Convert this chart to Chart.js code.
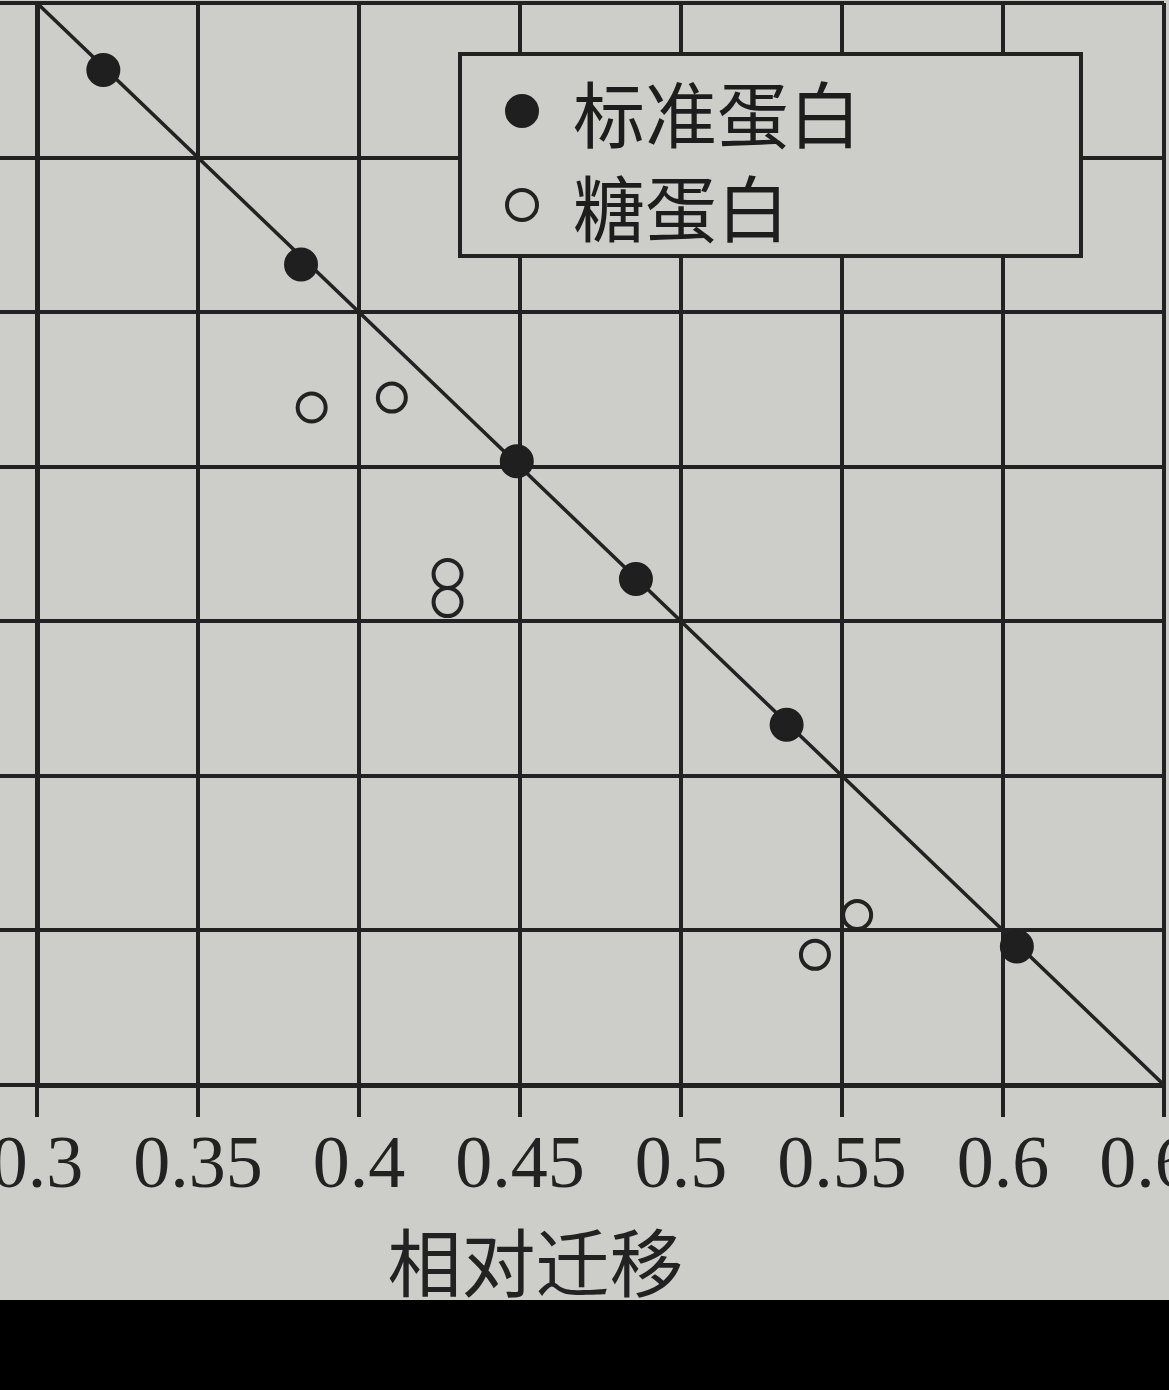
<!DOCTYPE html>
<html>
<head>
<meta charset="utf-8">
<title>相对迁移</title>
<script src="https://cdn.jsdelivr.net/npm/chart.js"></script>
<style>
  html, body { margin: 0; padding: 0; }
  body { width: 1169px; height: 1390px; background: #cdcec9; overflow: hidden; position: relative; }
  #wrap { position: absolute; left: -93px; top: 0; width: 1262px; height: 1300px; }
  #legendBox {
    position: absolute; left: 458px; top: 52px; width: 625px; height: 206px;
    box-sizing: border-box; border: 4px solid #222; background: #cdcec9;
    font-family: "Noto Sans CJK SC", sans-serif; font-size: 72px; color: #1d1d1d;
  }
  .row { position: absolute; left: 0; height: 72px; line-height: 72px; white-space: nowrap; }
  .mark { position: absolute; left: 43px; top: 19px; width: 34px; height: 34px; box-sizing: border-box; border-radius: 50%; }
  .txt { position: absolute; left: 111px; top: 0; }
  #band { position: absolute; left: 0; top: 1300px; width: 1169px; height: 90px; background: #000; }
</style>
</head>
<body>
<div id="wrap"><canvas id="chart"></canvas></div>
<div id="legendBox"></div>
<div id="band"></div>
<script>
// x 轴刻度
const tickValues = [0.3, 0.35, 0.4, 0.45, 0.5, 0.55, 0.6, 0.65];
const tickLabels = ['0.3', '0.35', '0.4', '0.45', '0.5', '0.55', '0.6', '0.65'];

// 标准蛋白 (实心点)
const standardX = [0.3206, 0.382, 0.449, 0.486, 0.5328, 0.6043];
const standardY = [6.567, 5.308, 4.036, 3.274, 2.331, 0.896];

// 糖蛋白 (空心点)
const glycoX = [0.3853, 0.4102, 0.4275, 0.4275, 0.5416, 0.5547];
const glycoY = [4.383, 4.447, 3.306, 3.124, 0.842, 1.1];

// 标准曲线两端
const fitX = [0.3, 0.65];
const fitY = [7, 0];

const axisTitle = '相对迁移';
const ink = '#222';

const toPoints = (xs, ys) => xs.map((x, i) => ({ x, y: ys[i] }));

const ctx = document.getElementById('chart');
const chart = new Chart(ctx, {
    type: 'scatter',
    data: {
        datasets: [
            {
                label: '标准蛋白',
                data: toPoints(standardX, standardY),
                pointRadius: 16,
                backgroundColor: '#1f1f1f',
                borderColor: '#1f1f1f',
                borderWidth: 2,
                inLegend: true
            },
            {
                label: '糖蛋白',
                data: toPoints(glycoX, glycoY),
                pointRadius: 14,
                backgroundColor: 'rgba(0,0,0,0)',
                borderColor: ink,
                borderWidth: 4,
                inLegend: true
            },
            {
                type: 'line',
                label: 'fit',
                data: toPoints(fitX, fitY),
                borderColor: ink,
                borderWidth: 3.5,
                pointRadius: 0,
                fill: false
            }
        ]
    },
    options: {
        responsive: true,
        maintainAspectRatio: false,
        animation: false,
        layout: { autoPadding: false, padding: { top: 3, right: 5, bottom: 0, left: 0 } },
        plugins: {
            legend: { display: false },
            tooltip: { enabled: false },
            title: {
                display: true,
                position: 'bottom',
                text: axisTitle,
                color: ink,
                font: { family: '"Noto Sans CJK SC", sans-serif', size: 74, weight: 'normal', lineHeight: 1 },
                padding: { top: 20, bottom: 0 }
            }
        },
        scales: {
            x: {
                type: 'linear',
                min: 0.3,
                max: 0.65,
                afterBuildTicks: axis => { axis.ticks = tickValues.map(v => ({ value: v })); },
                afterFit: axis => { axis.height = 121; axis.paddingLeft = 0; axis.paddingRight = 0; },
                ticks: {
                    color: ink,
                    padding: 14,
                    maxRotation: 0,
                    autoSkip: false,
                    font: { family: '"Liberation Serif", serif', size: 74, lineHeight: 1 },
                    callback: (v, i) => tickLabels[i]
                },
                grid: { color: ink, lineWidth: 4, tickLength: 32, tickColor: ink, tickWidth: 4 },
                border: { color: ink, width: 5 }
            },
            y: {
                type: 'linear',
                min: 0,
                max: 7,
                afterFit: axis => { axis.width = 130; axis.paddingTop = 0; axis.paddingBottom = 0; },
                ticks: { stepSize: 1, display: false },
                grid: { color: ink, lineWidth: 4, tickLength: 40, tickColor: ink, tickWidth: 4 },
                border: { color: ink, width: 5 }
            }
        }
    }
});

// 图例 (放在绘图区内右上方)
const legendBox = document.getElementById('legendBox');
chart.data.datasets.filter(ds => ds.inLegend).forEach((ds, i) => {
    const row = document.createElement('div');
    row.className = 'row';
    row.style.top = (19 + i * 94) + 'px';
    row.style.width = '100%';
    const mark = document.createElement('div');
    mark.className = 'mark';
    mark.style.background = ds.backgroundColor;
    mark.style.border = ds.borderWidth + 'px solid ' + ds.borderColor;
    const txt = document.createElement('span');
    txt.className = 'txt';
    txt.textContent = ds.label;
    row.appendChild(mark);
    row.appendChild(txt);
    legendBox.appendChild(row);
});
</script>
</body>
</html>
